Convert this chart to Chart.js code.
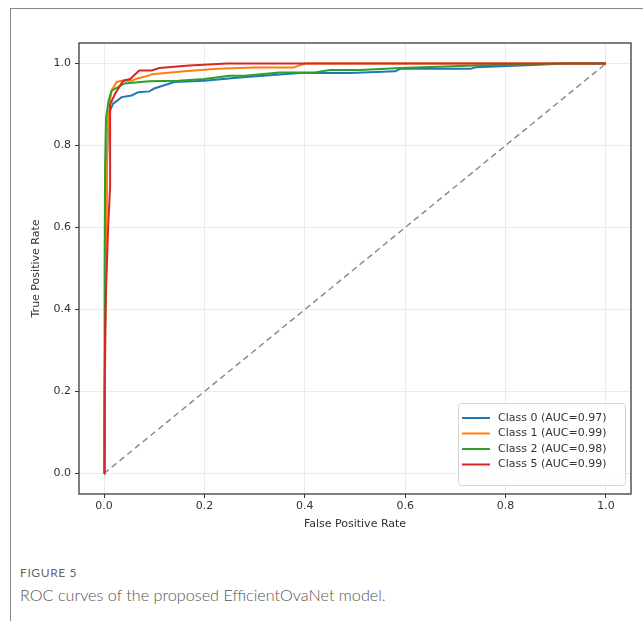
<!DOCTYPE html>
<html>
<head>
<meta charset="utf-8">
<script src="https://cdn.jsdelivr.net/npm/chart.js@4.4.1/dist/chart.umd.min.js"></script>
<style>
  html, body { margin: 0; padding: 0; background: #fff; }
  body { width: 643px; height: 621px; position: relative; overflow: hidden; }
  .page-frame { position: absolute; left: 10px; top: 8px; right: 0; bottom: 0;
    border-left: 1px solid #888; border-top: 1px solid #888; }
  #rocChart { position: absolute; left: 0; top: 0; }
  .fig-label { position: absolute; left: 20px; top: 565px; font: 400 12px Lato, sans-serif;
    color: #666; letter-spacing: 0.6px; }
  .fig-caption { position: absolute; left: 20px; top: 585px; font: 300 16.2px Lato, sans-serif; color: #555; }
</style>
</head>
<body>
<div class="page-frame"></div>
<canvas id="rocChart" width="643" height="540"></canvas>
<div class="fig-label">FIGURE 5</div>
<div class="fig-caption">ROC curves of the proposed EfficientOvaNet model.</div>

<script>
// values
const xTicks = [0, 0.2, 0.4, 0.6, 0.8, 1.0];
const yTicks = [0, 0.2, 0.4, 0.6, 0.8, 1.0];
const classNames = ['Class 0', 'Class 1', 'Class 2', 'Class 5'];
const aucValues = ['0.97', '0.99', '0.98', '0.99'];
const lineColors = ['#1f77b4', '#ff7f0e', '#2ca02c', '#d62728'];

const fpr0 = [0, 0.002, 0.004, 0.006, 0.009, 0.018, 0.035, 0.055, 0.068, 0.09, 0.1, 0.12, 0.14, 0.2, 0.27, 0.39, 0.49, 0.58, 0.59, 0.73, 0.74, 0.83, 0.92, 1.0];
const tpr0 = [0, 0.3, 0.6, 0.78, 0.877, 0.902, 0.918, 0.922, 0.93, 0.932, 0.939, 0.947, 0.955, 0.958, 0.966, 0.977, 0.977, 0.981, 0.987, 0.987, 0.991, 0.995, 1.0, 1.0];

const fpr1 = [0, 0.003, 0.005, 0.008, 0.012, 0.015, 0.025, 0.035, 0.055, 0.065, 0.09, 0.096, 0.16, 0.226, 0.3, 0.377, 0.4, 1.0];
const tpr1 = [0, 0.4, 0.7, 0.86, 0.91, 0.934, 0.955, 0.958, 0.958, 0.963, 0.971, 0.974, 0.981, 0.987, 0.99, 0.99, 1.0, 1.0];

const fpr2 = [0, 0.001, 0.002, 0.004, 0.009, 0.015, 0.027, 0.04, 0.09, 0.147, 0.2, 0.25, 0.28, 0.35, 0.42, 0.45, 0.51, 0.59, 0.74, 0.91, 1.0];
const tpr2 = [0, 0.5, 0.75, 0.868, 0.91, 0.934, 0.942, 0.951, 0.957, 0.958, 0.962, 0.97, 0.97, 0.978, 0.978, 0.984, 0.984, 0.989, 0.995, 1.0, 1.0];

const fpr5 = [0, 0.001, 0.002, 0.004, 0.008, 0.012, 0.012, 0.022, 0.038, 0.052, 0.07, 0.095, 0.11, 0.17, 0.245, 1.0];
const tpr5 = [0, 0.2, 0.35, 0.45, 0.6, 0.7, 0.9, 0.926, 0.958, 0.962, 0.983, 0.983, 0.989, 0.995, 1.0, 1.0];

const chanceFpr = [0, 1];
const chanceTpr = [0, 1];

const curves = [[fpr0, tpr0], [fpr1, tpr1], [fpr2, tpr2], [fpr5, tpr5]];
const toPoints = (xs, ys) => xs.map((x, i) => ({ x: x, y: ys[i] }));

const tickFont = { family: 'DejaVu Sans', size: 11 };
const textColor = '#333';

// matplotlib-style box round the axes + legend in lower right
const axesDecor = {
  id: 'axesDecor',
  afterDatasetsDraw(chart) {
    const { ctx, chartArea: a } = chart;
    ctx.save();
    ctx.strokeStyle = '#3a3a3a';
    ctx.lineWidth = 1.3;
    ctx.strokeRect(a.left, a.top, a.right - a.left, a.bottom - a.top);
    ctx.restore();
  },
  afterDraw(chart) {
    const { ctx, chartArea: a } = chart;
    const w = 167, h = 82, rowH = 15.5;
    const x0 = a.right - 6 - w, y0 = a.bottom - 9 - h;
    ctx.save();
    ctx.fillStyle = 'rgba(255,255,255,0.85)';
    ctx.strokeStyle = '#d6d6d6';
    ctx.lineWidth = 1;
    ctx.beginPath();
    ctx.roundRect(x0 + 0.5, y0 + 0.5, w, h, 3);
    ctx.fill();
    ctx.stroke();
    ctx.font = '11px "DejaVu Sans"';
    ctx.textBaseline = 'middle';
    classNames.forEach((name, i) => {
      const cy = y0 + 15 + i * rowH;
      ctx.strokeStyle = lineColors[i];
      ctx.lineWidth = 2;
      ctx.beginPath();
      ctx.moveTo(x0 + 4, cy);
      ctx.lineTo(x0 + 32, cy);
      ctx.stroke();
      ctx.fillStyle = textColor;
      ctx.fillText(name + ' (AUC=' + aucValues[i] + ')', x0 + 40, cy);
    });
    ctx.restore();
  }
};

const datasets = curves.map((c, i) => ({
  data: toPoints(c[0], c[1]),
  borderColor: lineColors[i],
  borderWidth: 2,
  showLine: true,
  pointRadius: 0,
  tension: 0,
  order: 4 - i
}));
datasets.push({
  data: toPoints(chanceFpr, chanceTpr),
  borderColor: '#8c8c8c',
  borderWidth: 1.5,
  borderDash: [6, 4],
  showLine: true,
  pointRadius: 0,
  order: 5
});

new Chart(document.getElementById('rocChart'), {
  type: 'scatter',
  data: { datasets: datasets },
  options: {
    responsive: false,
    animation: false,
    layout: { padding: { top: 43, right: 12, left: 0, bottom: 0 } },
    plugins: { legend: { display: false }, tooltip: { enabled: false } },
    scales: {
      x: {
        type: 'linear', min: -0.05, max: 1.05,
        afterBuildTicks: s => { s.ticks = xTicks.map(v => ({ value: v })); },
        afterFit: s => { s.height = 46; },
        ticks: { callback: v => Number(v).toFixed(1), font: tickFont, color: textColor, padding: 2, maxRotation: 0, autoSkip: false },
        grid: { color: '#ebebeb', tickColor: '#333', tickLength: 4 },
        border: { display: false },
        title: { display: true, text: 'False Positive Rate', font: tickFont, color: textColor, padding: { top: 2, bottom: 9 } }
      },
      y: {
        type: 'linear', min: -0.05, max: 1.05,
        afterBuildTicks: s => { s.ticks = yTicks.map(v => ({ value: v })); },
        afterFit: s => { s.width = 79; },
        ticks: { callback: v => Number(v).toFixed(1), font: tickFont, color: textColor, padding: 4, autoSkip: false },
        grid: { color: '#ebebeb', tickColor: '#333', tickLength: 4 },
        border: { display: false },
        title: { display: true, text: 'True Positive Rate', font: tickFont, color: textColor, padding: { top: 30, bottom: 0 } }
      }
    }
  },
  plugins: [axesDecor]
});
</script>
</body>
</html>
